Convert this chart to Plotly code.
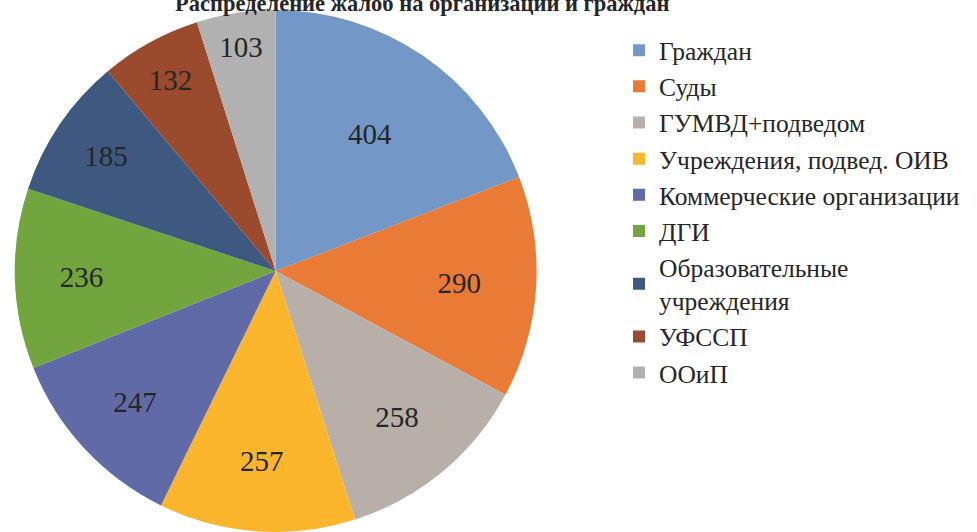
import plotly.graph_objects as go

categories = ["Граждан", "Суды", "ГУМВД+подведом", "Учреждения, подвед. ОИВ",
              "Коммерческие организации", "ДГИ", "Образовательные<br>учреждения",
              "УФССП", "ООиП"]
values = [404, 290, 258, 257, 247, 236, 185, 132, 103]
colors = ["#7398C8", "#E97B37", "#B8AFA9", "#FBB62E", "#5F6AA6",
          "#72A53D", "#3E5880", "#9A4A2D", "#B1B1B1"]
title = "Распределение жалоб на организации и граждан"

SERIF = "Liberation Serif, Times New Roman, serif"

fig = go.Figure(go.Pie(
    labels=categories, values=values, sort=False, direction="clockwise",
    rotation=0, marker=dict(colors=colors, line=dict(width=0)),
    textinfo="value", textposition="inside", insidetextorientation="horizontal",
    textfont=dict(family=SERIF, size=29, color="#262626"),
    domain=dict(x=[0.0143, 0.55], y=[0.0, 0.981]),
))

fig.update_layout(
    width=977, height=532,
    margin=dict(l=0, r=0, t=0, b=0),
    paper_bgcolor="white",
    showlegend=True,
    legend=dict(x=0.6336, y=0.949, xanchor="left", yanchor="top",
                font=dict(family=SERIF, size=25.5, color="#262626"),
                tracegroupgap=0, itemsizing="constant"),
    annotations=[dict(text="<b>" + title + "</b>", xref="paper", yref="paper",
                      x=0.432, y=1, xanchor="center", yanchor="middle", yshift=-3,
                      showarrow=False,
                      font=dict(family=SERIF, size=22.5, color="#262626"))],
)

fig.write_html("out.html", config={"displayModeBar": False},
               post_script="document.body.style.margin='0';")
